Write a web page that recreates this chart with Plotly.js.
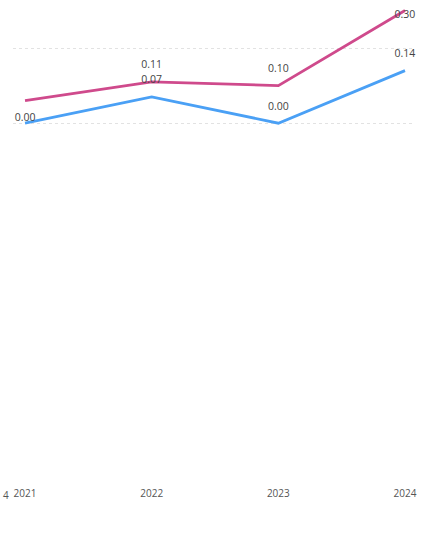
<!DOCTYPE html>
<html><head><meta charset="utf-8">
<script src="https://cdn.plot.ly/plotly-3.0.1.min.js"></script>
<style>html,body{margin:0;padding:0;background:#fff}#chart{width:433px;height:533px}</style>
</head><body><div id="chart"></div>
<script>
const years = [2021, 2022, 2023, 2024];
const yearLabels = ['2021', '2022', '2023', '2024'];
const pinkValues = [0.06, 0.11, 0.10, 0.30];
const pinkLabels = ['', '0.11', '0.10', '0.30'];
const blueValues = [0.00, 0.07, 0.00, 0.14];
const blueLabels = ['0.00', '0.07', '0.00', '0.14'];

const fontFam = 'Segoe UI, "Open Sans", "DejaVu Sans", sans-serif';
const labelFont = {family: fontFam, size: 10.5, color: '#444'};

const traces = [
  {x: years, y: pinkValues, mode: 'lines+markers+text', text: pinkLabels,
   textposition: ['top center', 'top center', 'top center', 'bottom center'],
   marker: {size: [1, 16, 16, 0], opacity: 0},
   textfont: labelFont, line: {color: '#cf4a8c', width: 2.8}, cliponaxis: false, hoverinfo: 'skip'},
  {x: years, y: blueValues, mode: 'lines+markers+text', text: blueLabels,
   textposition: ['top center', 'top center', 'top center', 'top center'],
   marker: {size: [0, 16, 16, 16], opacity: 0},
   textfont: labelFont, line: {color: '#4aa0f5', width: 2.8}, cliponaxis: false, hoverinfo: 'skip'}
];

const layout = {
  width: 433, height: 533,
  margin: {l: 13, r: 18, t: 0, b: 53},
  paper_bgcolor: '#fff', plot_bgcolor: '#fff',
  showlegend: false,
  xaxis: {range: [2020.905, 2024.079], tickvals: years, ticktext: yearLabels,
          showgrid: false, zeroline: false, showline: false, ticks: '',
          ticklabelstandoff: 6,
          tickfont: {family: fontFam, size: 10, color: '#555'}},
  yaxis: {range: [-0.95, 0.328], tickvals: [0, 0.2], showticklabels: false,
          showgrid: true, gridcolor: '#e2e2e2', griddash: 'dot', gridwidth: 1,
          zeroline: false, showline: false, ticks: ''},
  annotations: [
    {xref: 'paper', yref: 'paper', x: 0, y: 0, xanchor: 'left', yanchor: 'top',
     xshift: -12, yshift: -6, text: '4', showarrow: false,
     font: {family: fontFam, size: 10, color: '#555'}}
  ]
};
Plotly.newPlot('chart', traces, layout, {displayModeBar: false, staticPlot: true});
</script></body></html>
